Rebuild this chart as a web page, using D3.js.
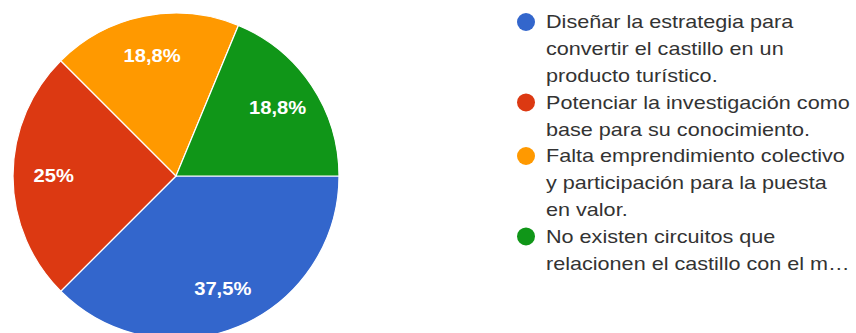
<!DOCTYPE html>
<html>
<head>
<meta charset="utf-8">
<script src="https://cdn.jsdelivr.net/npm/d3@7"></script>
<style>
  html, body { margin: 0; padding: 0; background: #fff; }
  svg { display: block; }
</style>
</head>
<body>
<svg id="chart" width="856" height="333"></svg>
<script>
const categories = [
  ["Diseñar la estrategia para", "convertir el castillo en un", "producto turístico."],
  ["Potenciar la investigación como", "base para su conocimiento."],
  ["Falta emprendimiento colectivo", "y participación para la puesta", "en valor."],
  ["No existen circuitos que", "relacionen el castillo con el m…"]
];
const values = [37.5, 25, 18.75, 18.75];
const colors = ["#3366cc", "#dc3912", "#ff9900", "#109618"];

const svg = d3.select("#chart");
const cx = 176, cy = 176, r = 163;

const pie = d3.pie().sort(null).value(d => d)
  .startAngle(Math.PI / 2).endAngle(Math.PI / 2 + 2 * Math.PI);
const arcs = pie(values);
const arc = d3.arc().innerRadius(0).outerRadius(r);
const labelArc = d3.arc().innerRadius(r * 0.75).outerRadius(r * 0.75);

const g = svg.append("g").attr("transform", `translate(${cx},${cy})`);
g.selectAll("path").data(arcs).join("path")
  .attr("d", arc)
  .attr("fill", (d, i) => colors[i])
  .attr("stroke", "#fff")
  .attr("stroke-width", 1.2);

const fmt = v => {
  const s = (Math.round(v * 10) / 10).toString().replace(".", ",");
  return s + "%";
};
g.selectAll("text").data(arcs).join("text")
  .attr("transform", d => `translate(${labelArc.centroid(d)}) scale(1.12,1)`)
  .attr("text-anchor", "middle")
  .attr("dy", "0.35em")
  .attr("fill", "#fff")
  .attr("font-family", "'Liberation Sans', Arial, sans-serif")
  .attr("font-size", 18)
  .attr("font-weight", "bold")
  .text(d => fmt(d.data));

// legend
const legX = 526, textX = 546, startY = 22, lineH = 26.8;
const leg = svg.append("g");
let line = 0;
categories.forEach((lines, i) => {
  const y0 = startY + line * lineH;
  leg.append("circle").attr("cx", legX).attr("cy", y0).attr("r", 9).attr("fill", colors[i]);
  lines.forEach((t, j) => {
    leg.append("text")
      .attr("transform", `translate(${textX},${y0 + j * lineH}) scale(1.2,1)`)
      .attr("dy", "0.35em")
      .attr("fill", "#333")
      .attr("font-family", "'Liberation Sans', Arial, sans-serif")
      .attr("font-size", 18)
      .text(t);
  });
  line += lines.length;
});
</script>
</body>
</html>
